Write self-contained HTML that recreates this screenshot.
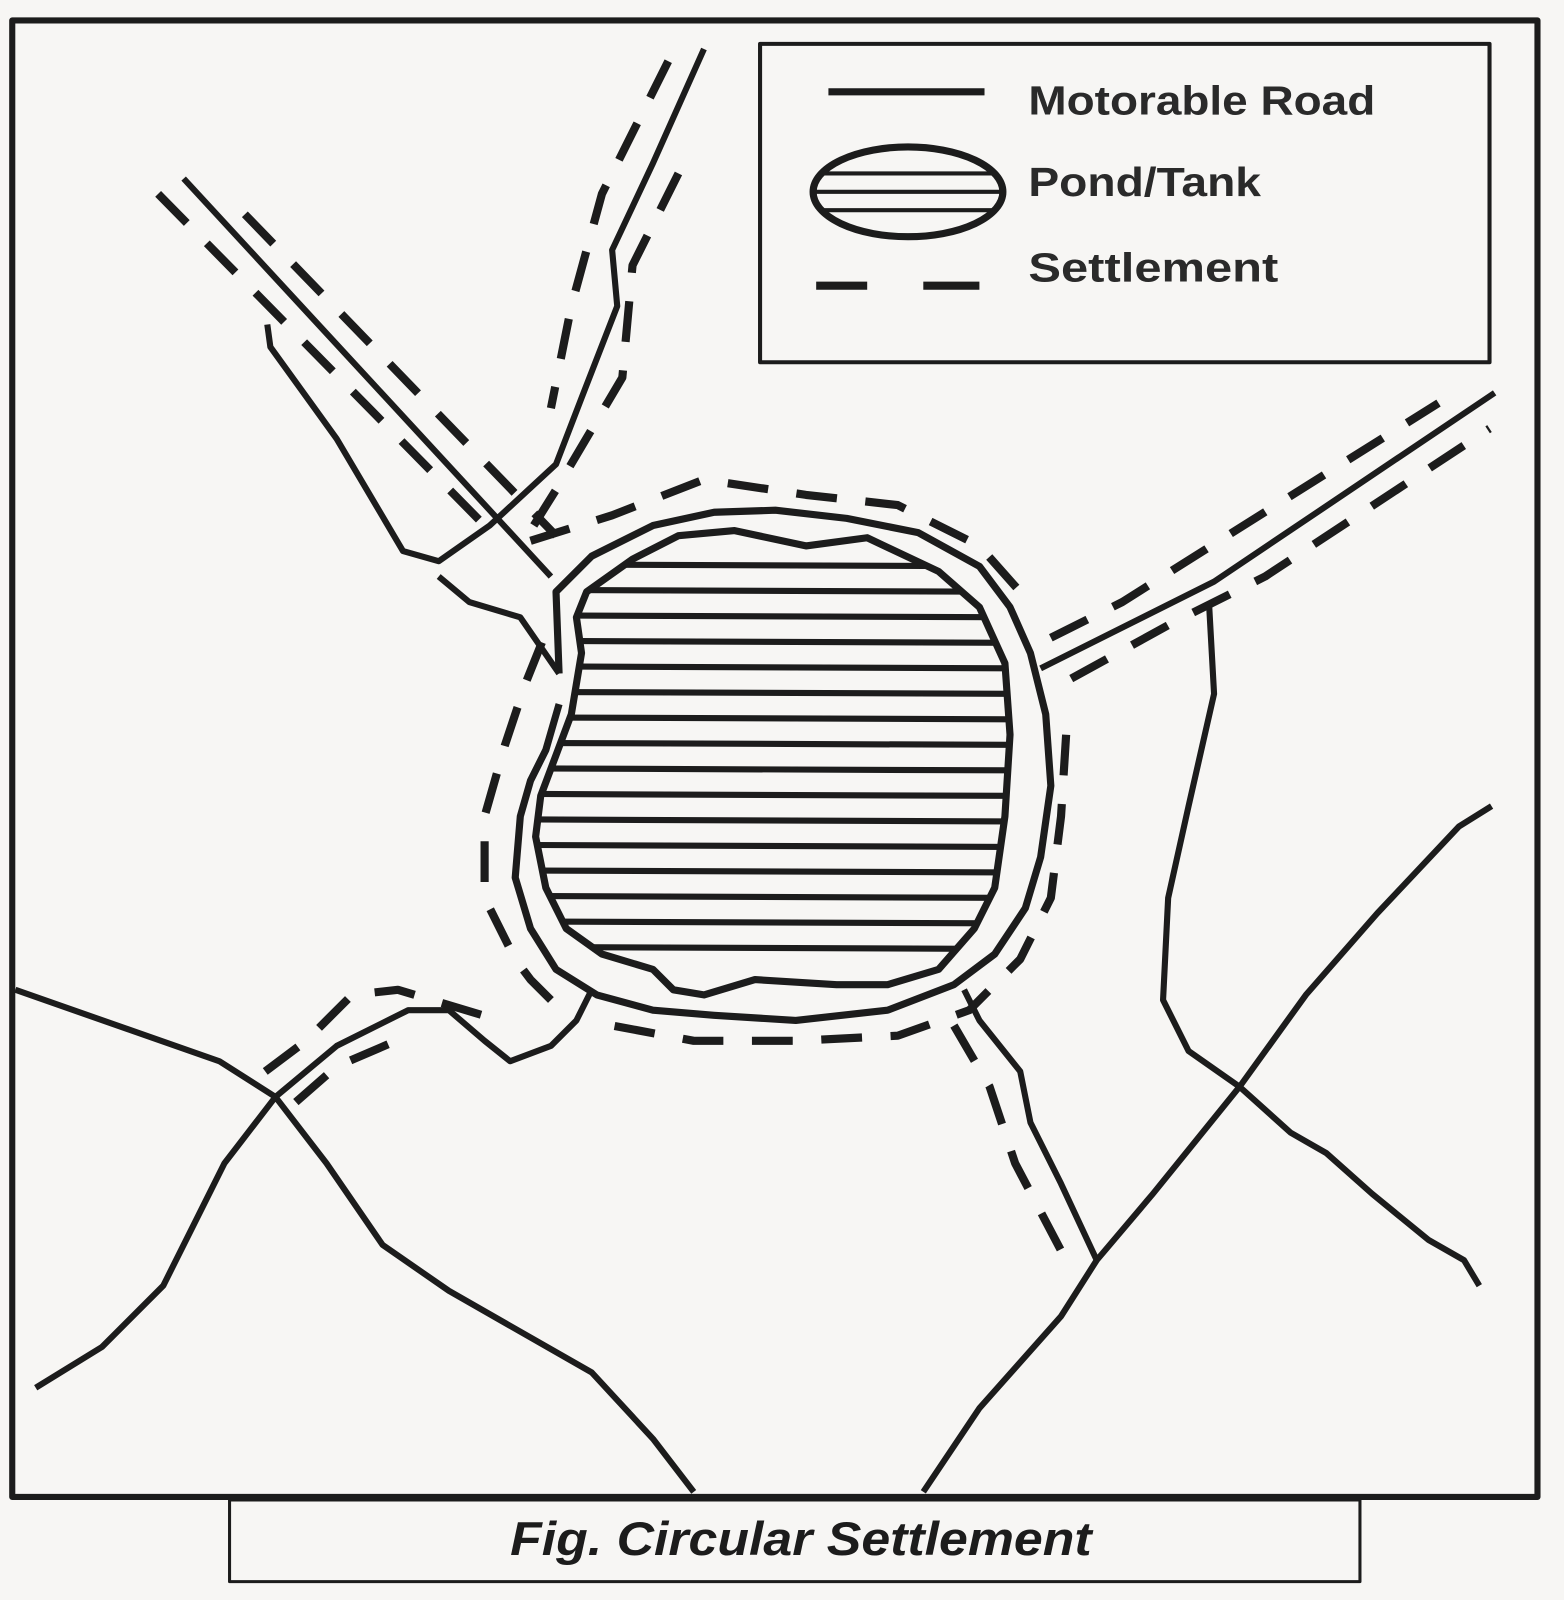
<!DOCTYPE html>
<html><head><meta charset="utf-8"><style>
html,body{margin:0;padding:0;background:#f7f6f4;}
svg{display:block}
</style></head><body>
<svg width="1564" height="1600" viewBox="0 0 1533 1568" preserveAspectRatio="none" xmlns="http://www.w3.org/2000/svg">
<rect x="0" y="0" width="1533" height="1568" fill="#f7f6f4"/>
<g fill="none" stroke="#1c1c1c" stroke-width="6" stroke-linejoin="round" stroke-linecap="butt">
<rect x="12" y="20" width="1495" height="1447" stroke-width="6"/>
<rect x="745" y="43" width="715" height="312" stroke-width="4"/>
<rect x="225" y="1470" width="1108" height="80" stroke-width="3"/>
<line x1="812" y1="90" x2="965" y2="90" stroke-width="7"/>
<ellipse cx="890" cy="188" rx="93" ry="44" stroke-width="7"/>
<line x1="808" y1="170" x2="972" y2="170" stroke-width="4"/>
<line x1="800" y1="188" x2="980" y2="188" stroke-width="4"/>
<line x1="808" y1="206" x2="972" y2="206" stroke-width="4"/>
<line x1="800" y1="280" x2="850" y2="280" stroke-width="8"/>
<line x1="905" y1="280" x2="960" y2="280" stroke-width="8"/>
</g>
<g font-family="Liberation Sans, sans-serif" font-weight="bold" font-size="40" fill="#2a2a2a">
<text x="1008" y="112" textLength="340" lengthAdjust="spacingAndGlyphs">Motorable Road</text>
<text x="1008" y="192" textLength="228" lengthAdjust="spacingAndGlyphs">Pond/Tank</text>
<text x="1008" y="276" textLength="245" lengthAdjust="spacingAndGlyphs">Settlement</text>
</g>
<text x="500" y="1524" font-family="Liberation Sans, sans-serif" font-weight="bold" font-style="italic" font-size="46" fill="#1c1c1c" textLength="570" lengthAdjust="spacingAndGlyphs">Fig. Circular Settlement</text>

<defs>
<clipPath id="pc"><path d="M565,605 L575,580 620,548 665,525 720,520 790,535 850,527 920,560 960,595 985,650 990,720 985,800 975,870 955,910 920,950 870,965 820,965 740,960 690,975 660,970 640,950 590,935 555,910 535,870 525,820 530,780 545,740 560,700 570,640 Z"/></clipPath>
</defs>
<g clip-path="url(#pc)" stroke="#1c1c1c" stroke-width="6">
<line x1="500" y1="553" x2="1000" y2="555"/><line x1="500" y1="578" x2="1000" y2="580"/>
<line x1="500" y1="603" x2="1000" y2="605"/><line x1="500" y1="628" x2="1000" y2="630"/>
<line x1="500" y1="653" x2="1000" y2="655"/><line x1="500" y1="678" x2="1000" y2="680"/>
<line x1="500" y1="703" x2="1000" y2="705"/><line x1="500" y1="728" x2="1000" y2="730"/>
<line x1="500" y1="753" x2="1000" y2="755"/><line x1="500" y1="778" x2="1000" y2="780"/>
<line x1="500" y1="803" x2="1000" y2="805"/><line x1="500" y1="828" x2="1000" y2="830"/>
<line x1="500" y1="853" x2="1000" y2="855"/><line x1="500" y1="878" x2="1000" y2="880"/>
<line x1="500" y1="903" x2="1000" y2="905"/><line x1="500" y1="928" x2="1000" y2="930"/>
</g>
<g fill="none" stroke="#1c1c1c" stroke-width="6" stroke-linejoin="round">
<path stroke-width="7" d="M565,605 L575,580 620,548 665,525 720,520 790,535 850,527 920,560 960,595 985,650 990,720 985,800 975,870 955,910 920,950 870,965 820,965 740,960 690,975 660,970 640,950 590,935 555,910 535,870 525,820 530,780 545,740 560,700 570,640 Z"/>
<path stroke-width="7" d="M548,660 L545,580 580,545 640,515 700,502 760,500 830,508 900,522 960,555 990,595 1010,640 1025,700 1030,770 1020,840 1005,890 975,935 935,965 870,990 780,1000 700,995 640,990 585,975 545,950 520,910 505,860 510,800 520,765 535,735 548,690"/>
<path d="M180,175 L540,565"/>
<path d="M690,48 L640,160 600,245 605,300 570,390 545,455 480,515 430,550 395,540 330,430 265,340 262,318"/>
<path d="M430,565 L460,590 510,605 548,660"/>
<path d="M1020,655 L1190,570 1465,385"/>
<path d="M1185,590 L1190,680 1165,790 1145,880 1140,980 1165,1030 1215,1065 1265,1110 1300,1130 1345,1170 1400,1215 1435,1235 1450,1260"/>
<path d="M1462,790 L1430,810 1350,895 1280,975 1215,1065 1130,1170 1075,1235 1040,1290 960,1380 905,1462"/>
<path d="M945,970 L960,1000 1000,1050 1010,1100 1040,1160 1075,1235"/>
<path d="M15,970 L215,1040 270,1075 320,1140 375,1220 440,1265 580,1345 640,1410 680,1462"/>
<path d="M35,1360 L100,1320 160,1260 220,1140 270,1075 330,1025 400,990 440,990 475,1020 500,1040 540,1025 565,1000 580,970"/>
</g>
<g fill="none" stroke="#1c1c1c" stroke-width="8" stroke-dasharray="40 28" stroke-linejoin="round">
<path d="M520,530 L600,505 690,470 790,485 880,495 960,535 1000,580"/>
<path d="M1045,720 L1040,800 1030,880 1000,940 950,990 880,1015 780,1020 680,1020 600,1005"/>
<path d="M540,980 L520,960 505,940 475,880 475,800 495,730 515,670 535,620"/>
<path d="M155,190 L480,520"/>
<path d="M240,210 L545,525"/>
<path d="M655,60 L590,190 560,300 540,400"/>
<path d="M665,170 L620,260 610,370 545,480 520,520"/>
<path d="M1030,625 L1100,590 1195,530 1410,395"/>
<path d="M1050,665 L1150,610 1240,565 1460,420"/>
<path d="M935,1005 L970,1065 995,1140 1045,1235"/>
<path d="M260,1050 L300,1020 345,975 390,970 490,1000"/>
<path d="M290,1080 L330,1045 400,1015"/>
</g>
</svg>
</body></html>
